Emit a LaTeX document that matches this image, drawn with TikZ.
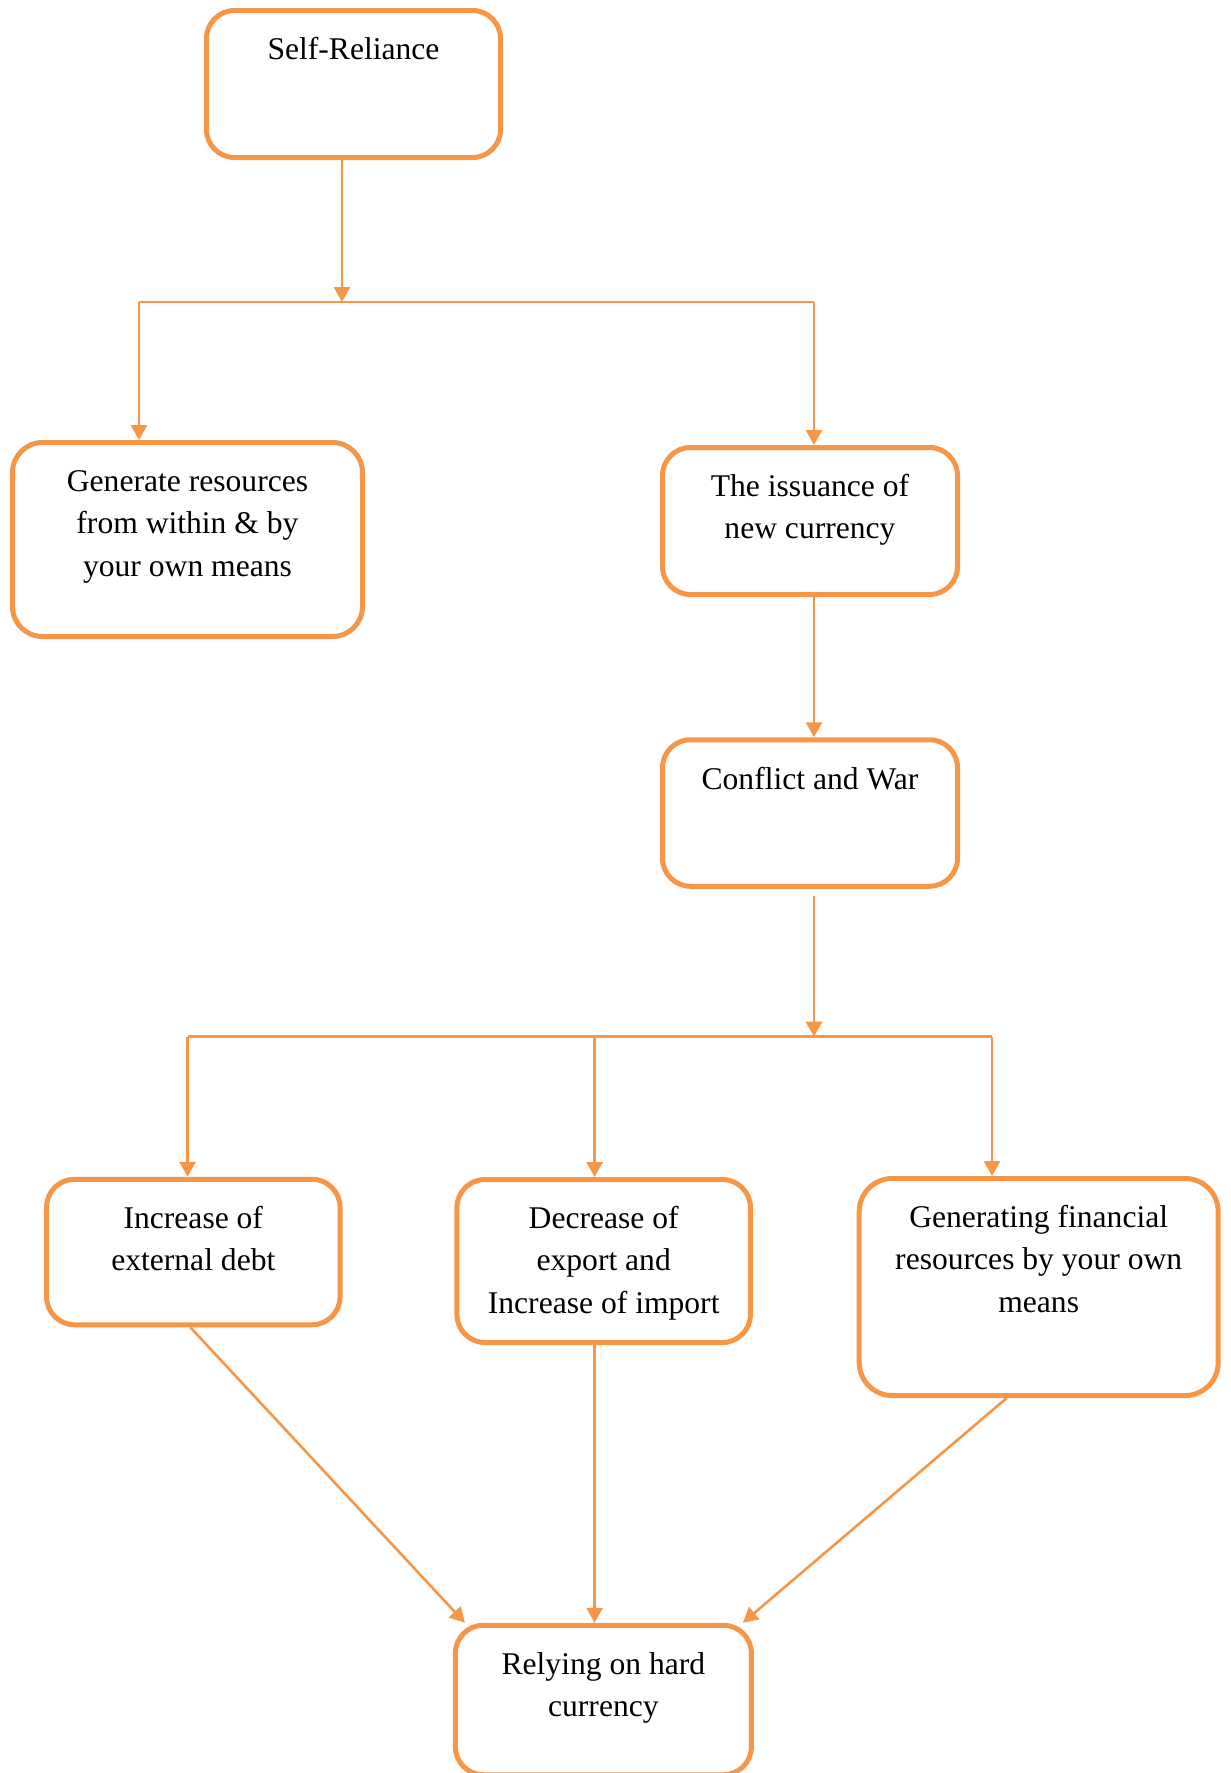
\documentclass[tikz,border=0pt]{standalone}
\usepackage{fontspec}
\setmainfont{Liberation Serif}
\usetikzlibrary{arrows.meta,calc}
\definecolor{orng}{HTML}{F79646}
\begin{document}
\begin{tikzpicture}[x=1pt,y=-1pt,
  box/.style={draw=orng, line width=5pt, rounded corners=28pt, inner sep=0pt, minimum width=#1},
  txt/.style={inner sep=0pt, align=center, anchor=north, font=\fontsize{31.6}{42.2}\selectfont},
  conn/.style={draw=orng, line width=2.6pt},
  arr/.style={conn, -{Triangle[length=15pt,width=16pt]}}]
\useasboundingbox (0,0) rectangle (1231,1773);
% boxes
\node[box=294pt, minimum height=147pt] (B1) at (353.5,84) {};
\node[box=350pt, minimum height=194pt, rounded corners=30pt] (B2) at (187.5,539.5) {};
\node[box=295pt, minimum height=147pt] (B3) at (810,521) {};
\node[box=295pt, minimum height=146.5pt] (B4) at (810,813) {};
\node[box=293.5pt, minimum height=145.5pt] (B5) at (193.3,1252) {};
\node[box=293.5pt, minimum height=163pt] (B6) at (603.7,1261) {};
\node[box=359pt, minimum height=217pt, rounded corners=33pt] (B7) at (1038.7,1287) {};
\node[box=296pt, minimum height=149.5pt] (B8) at (603.4,1700) {};
% texts
\node[txt] (T1) at ($(B1.north)+(0,22)$) {\strut Self-Reliance};
\node[txt] (T2) at ($(B2.north)+(0,22)$) {\strut Generate resources\\from within \& by\\your own means};
\node[txt] (T3) at ($(B3.north)+(0,22)$) {\strut The issuance of\\new currency};
\node[txt] (T4) at ($(B4.north)+(0,22)$) {\strut Conflict and War};
\node[txt] (T5) at ($(B5.north)+(0,22)$) {\strut Increase of\\external debt};
\node[txt] (T6) at ($(B6.north)+(0,22)$) {\strut Decrease of\\export and\\Increase of import};
\node[txt] (T7) at ($(B7.north)+(0,22)$) {\strut Generating financial\\resources by your own\\means};
\node[txt] (T8) at ($(B8.north)+(0,22)$) {\strut Relying on hard\\currency};
% junction coordinates
\coordinate (J1) at (342,302);
\coordinate (JL) at (139,302);
\coordinate (JR) at (814,302);
\coordinate (K0) at (814,896);
\coordinate (K1) at (814,1036.7);
\coordinate (KL) at (187.6,1036.7);
\coordinate (KM) at (594.6,1036.7);
\coordinate (KR) at (992,1036.7);
% connectors
\draw[arr] (B1.south -| J1) -- (J1);
\draw[conn] (JL) -- (JR);
\draw[arr] (JL) -- (B2.north -| JL);
\draw[arr] (JR) -- (B3.north -| JR);
\draw[arr] (B3.south -| JR) -- (B4.north -| JR);
\draw[arr] (K0) -- (K1);
\draw[conn] (KL) -- (KR);
\draw[arr] (KL) -- (B5.north -| KL);
\draw[arr] (KM) -- (B6.north -| KM);
\draw[arr] (KR) -- (B7.north -| KR);
\draw[arr] ($(B5.south)+(-3,0)$) -- ($(B8.north west)+(12,0)$);
\draw[arr] (B6.south -| KM) -- (B8.north -| KM);
\draw[arr] ($(B7.south)+(-32,0)$) -- ($(B8.north east)+(-11,0)$);
\end{tikzpicture}
\end{document}
